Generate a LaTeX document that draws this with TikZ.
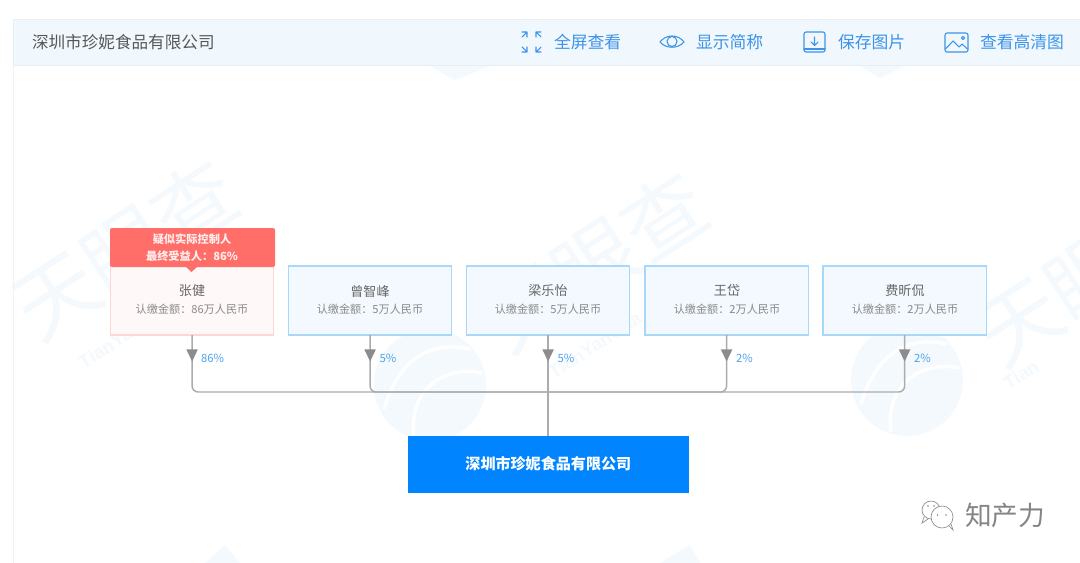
\documentclass[tikz,border=0pt]{standalone}
\usepackage{fontspec}
\setmainfont{Noto Sans CJK SC}
\newfontfamily\latinwm{Liberation Sans}
\usetikzlibrary{arrows.meta}
\definecolor{hdrbg}{HTML}{F1F8FD}
\definecolor{hdrline}{HTML}{E8EEF2}
\definecolor{linkblue}{HTML}{3D93E8}
\definecolor{boxfill}{HTML}{F3F9FE}
\definecolor{boxline}{HTML}{A9D7F7}
\definecolor{redfill}{HTML}{FF6E69}
\definecolor{redbody}{HTML}{FFF8F8}
\definecolor{redline}{HTML}{FFD6D6}
\definecolor{edgegray}{HTML}{ABABAB}
\definecolor{tipgray}{HTML}{8C8C8C}
\definecolor{maintext}{HTML}{666666}
\definecolor{subtext}{HTML}{8A8A8A}
\definecolor{pctblue}{HTML}{4FA3EE}
\definecolor{corpblue}{HTML}{0084FF}
\definecolor{wm}{HTML}{F4F9FD}
\tikzset{
  x=0.75pt,y=-0.75pt,
  every node/.style={inner sep=0pt,outer sep=0pt},
  holder/.style={draw=boxline,line width=0.9pt,fill=boxfill,minimum width=122.4pt,minimum height=51.8pt,anchor=north west},
  redholder/.style={holder,draw=redline,fill=redbody},
  nametext/.style={text=maintext,font=\fontsize{9.8}{12}\selectfont},
  subfont/.style={text=subtext,font=\fontsize{8.35}{10}\selectfont},
  pct/.style={text=pctblue,font=\fontsize{8.5}{10}\selectfont,anchor=west},
  toollabel/.style={text=linkblue,font=\fontsize{12.6}{15}\selectfont,anchor=west},
  toolicon/.style={draw=linkblue,line width=0.8pt,line cap=round,line join=round},
  edge/.style={draw=edgegray,line width=1.1pt,rounded corners=4.5pt},
  wmark/.style={text=wm,font=\fontsize{62}{70}\selectfont,rotate=33},
  wmlatin/.style={text=wm,font=\fontsize{14}{16}\latinwm\selectfont\bfseries,rotate=33}
}
\begin{document}
\begin{tikzpicture}
\useasboundingbox (0,0) rectangle (1080,563);
\fill[white] (0,0) rectangle (1080,563);
% watermark
\node[wmark] (wma) at (125,250) {天眼查};
\node[wmlatin] (wmb) at (125,335) {TianYanCha};
\node[wmark] (wmc) at (595,262) {天眼查};
\node[wmlatin] (wmd) at (595,345) {TianYanCha};
\node[wmark,anchor=west] (wme) at (985,345) {天眼};
\node[wmlatin,anchor=west] (wmf) at (1005,385) {Tian};
\foreach \cx/\cy in {430/385,907/380}{
  \fill[wm] (\cx,\cy) circle (56);
  \draw[white,line width=2.5pt] (\cx-46,\cy+24) .. controls (\cx-30,\cy-30) and (\cx+4,\cy-44) .. (\cx+40,\cy-36);
  \draw[white,line width=2.5pt] (\cx-16,\cy+52) .. controls (\cx-22,\cy+8) and (\cx+10,\cy-20) .. (\cx+52,\cy-12);
}
\fill[wm] (430,66) -- (490,66) -- (455,80) -- cycle;
\fill[wm] (860,66) -- (905,66) -- (880,78) -- cycle;
\fill[wm] (205,563) -- (225,545) -- (240,563) -- cycle;
\fill[wm] (660,563) -- (690,545) -- (700,563) -- cycle;
% header
\draw[hdrline,fill=hdrbg,line width=0.6pt] (13,19) rectangle (1080,65);
\draw[hdrline!70!white,line width=0.6pt] (13,65) -- (13,563);
\node[anchor=west,text=maintext!85!black,font=\fontsize{12.45}{15}\selectfont] (title) at (32,42) {深圳市珍妮食品有限公司};
% tool: fullscreen
\begin{scope}[toolicon]
  \draw (522,37) -- (527,32) (522,32) -- (527,32) -- (527,37);
  \draw (541,37) -- (536,32) (541,32) -- (536,32) -- (536,37);
  \draw (522,47) -- (527,52) (522,52) -- (527,52) -- (527,47);
  \draw (541,47) -- (536,52) (541,52) -- (536,52) -- (536,47);
\end{scope}
\node[toollabel] (full) at (554,42) {全屏查看};
% tool: eye
\draw[toolicon] (660,42) .. controls (666,34) and (678,34) .. (684,42) .. controls (678,49) and (666,49) .. (660,42) -- cycle;
\draw[toolicon] (672,41.5) circle (5);
\node[toollabel] (abbr) at (696,42) {显示简称};
% tool: save
\draw[toolicon,rounded corners=1.5pt] (804,32) rectangle (825,52);
\draw[toolicon] (804,49) -- (825,49);
\draw[toolicon] (814.5,37) -- (814.5,45) (811,42) -- (814.5,45.5) -- (818,42);
\node[toollabel] (save) at (838,42) {保存图片};
% tool: image
\draw[toolicon,rounded corners=1.5pt] (945,33) rectangle (968,52);
\draw[toolicon] (945.5,49) -- (953,41) -- (959,47) -- (962,44) -- (967.5,49);
\draw[toolicon] (963,38) circle (1.6);
\node[toollabel] (hd) at (980,42) {查看高清图};
% holders
\node[redholder] (zj) at (110.5,266) {};
\node[holder] (zzf) at (288.5,266) {};
\node[holder] (lly) at (466.5,266) {};
\node[holder] (wd) at (645,266) {};
\node[holder] (fxk) at (823,266) {};
% red tag
\fill[redfill,rounded corners=1.5pt] (110,228) -- (275,228) -- (275,267) -- (110,267) -- cycle;
\fill[redfill] (186,267) -- (197,267) -- (191.5,272) -- cycle;
\node[text=white!93!red,font=\fontsize{8.4}{10}\selectfont\bfseries] (tag1) at (192,239.5) {疑似实际控制人};
\node[text=white!93!red,font=\fontsize{8.4}{10}\selectfont\bfseries] (tag2) at (192,256) {最终受益人：86\%};
% holder texts
\node[nametext] (n1) at (192,291) {张健};
\node[subfont] (s1) at (192,309) {认缴金额：86万人民币};
\node[nametext] (n2) at (370,291) {曾智峰};
\node[subfont] (s2) at (370,309) {认缴金额：5万人民币};
\node[nametext] (n3) at (548,291) {梁乐怡};
\node[subfont] (s3) at (548,309) {认缴金额：5万人民币};
\node[nametext] (n4) at (727,291) {王岱};
\node[subfont] (s4) at (727,309) {认缴金额：2万人民币};
\node[nametext] (n5) at (905,291) {费昕侃};
\node[subfont] (s5) at (905,309) {认缴金额：2万人民币};
% company
\node[fill=corpblue,minimum width=210.5pt,minimum height=42.8pt,anchor=north west,text=white,font=\fontsize{11.3}{13}\selectfont\bfseries] (corp) at (408,435.5) {深圳市珍妮食品有限公司};
% connectors
\coordinate (bus) at (548,392);
\draw[edge] (zj.south) -- (zj.south |- bus) -- (bus);
\draw[edge] (zzf.south) -- (zzf.south |- bus) -- (bus);
\draw[edge] (fxk.south) -- (fxk.south |- bus) -- (bus);
\draw[edge] (wd.south) -- (wd.south |- bus) -- (bus);
\draw[edge] (lly.south) -- (lly.south |- corp.north);
\foreach \h in {zj,zzf,lly,wd,fxk}{
  \coordinate (tip) at ([yshift=-19.8pt]\h.south);
  \fill[tipgray] ([xshift=-4.3pt,yshift=-10.8pt]\h.south) -- ([xshift=4.3pt,yshift=-10.8pt]\h.south) -- (tip) -- cycle;
}
\node[pct] (p1) at (201,358) {86\%};
\node[pct] (p2) at (379.5,358) {5\%};
\node[pct] (p3) at (557.5,358) {5\%};
\node[pct] (p4) at (736,358) {2\%};
\node[pct] (p5) at (914,358) {2\%};
% wechat mark
\begin{scope}[draw=black!45,line width=0.5pt]
  \draw[fill=white] (931,510) circle (9);
  \draw (924,517) -- (922,523) -- (928,519);
  \draw[fill=white] (942,517) circle (11);
  \draw (949,526) -- (953,530) -- (951,524);
  \fill[black!45] (937.5,515) circle (0.9) (946,515) circle (0.9) (928,506) circle (0.8) (934,506) circle (0.8);
\end{scope}
\node[anchor=west,text=black!48,font=\fontsize{20}{22}\selectfont] (wx) at (965,515) {知产力};
\end{tikzpicture}
\end{document}
